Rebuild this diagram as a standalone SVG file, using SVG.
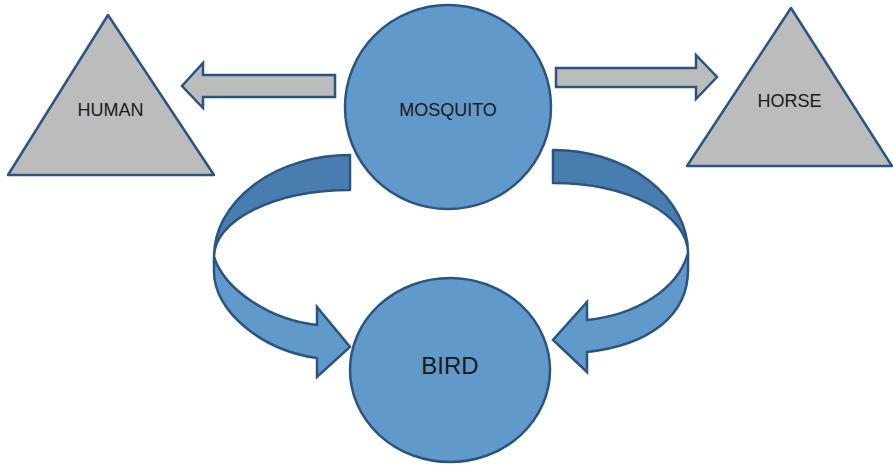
<svg xmlns="http://www.w3.org/2000/svg" width="893" height="465" viewBox="0 0 893 465">
<style>
.tri{fill:#BBBCBC;stroke:#2B5580;stroke-width:2.5;stroke-linejoin:round}
.ell{fill:#6199CB;stroke:#2B5580;stroke-width:2.5}
.gar{fill:#BBBCBC;stroke:#2B5580;stroke-width:2.5;stroke-linejoin:miter}
.dark{fill:#4A7DAF;stroke:#2B5580;stroke-width:2.5;stroke-linejoin:round}
.light{fill:#6199CB;stroke:#2B5580;stroke-width:2.5;stroke-linejoin:miter}
.t{font-family:"Liberation Sans",Arial,sans-serif;fill:#1a1a1a;text-anchor:middle}
</style>
<rect width="893" height="465" fill="#fff"/>
<g id="connectors">
<path class="gar" d="M335,75 L203,75 L203,63 L182,86 L203,108 L203,97 L335,97 Z"/>
<path class="gar" d="M556,68 L696,68 L696,55 L717,77 L696,99 L696,87 L556,87 Z"/>
<path class="dark" d="M350,155 A136 102 0 0 0 214,257 A136 67 0 0 1 350,190 Z"/>
<path class="light" d="M214,257 L214,272 C214,310 260,350 317,358 L317,377 L350,347 L317,307 L317,325 C270,320 225,290 214,257 Z"/>
<path class="dark" d="M553,150 A135 103 0 0 1 688,253 A135 70 0 0 0 553,183 Z"/>
<path class="light" d="M688,253 L688,270 C688,315 650,345 587,352 L587,372 L553,340 L587,302 L587,320 C635,315 678,290 688,253 Z"/>
</g>
<g id="human">
<polygon class="tri" points="108,15 214,175 8,175"/>
<text class="t" x="110.5" y="116" font-size="18">HUMAN</text>
</g>
<g id="horse">
<polygon class="tri" points="791,8 892,166 687,166"/>
<text class="t" x="789.5" y="107" font-size="18">HORSE</text>
</g>
<g id="mosquito">
<ellipse class="ell" cx="448" cy="107" rx="103" ry="102"/>
<text class="t" x="448" y="116" font-size="18">MOSQUITO</text>
</g>
<g id="bird">
<ellipse class="ell" cx="450" cy="370" rx="100" ry="92"/>
<text class="t" x="450" y="374" font-size="24">BIRD</text>
</g>
</svg>
